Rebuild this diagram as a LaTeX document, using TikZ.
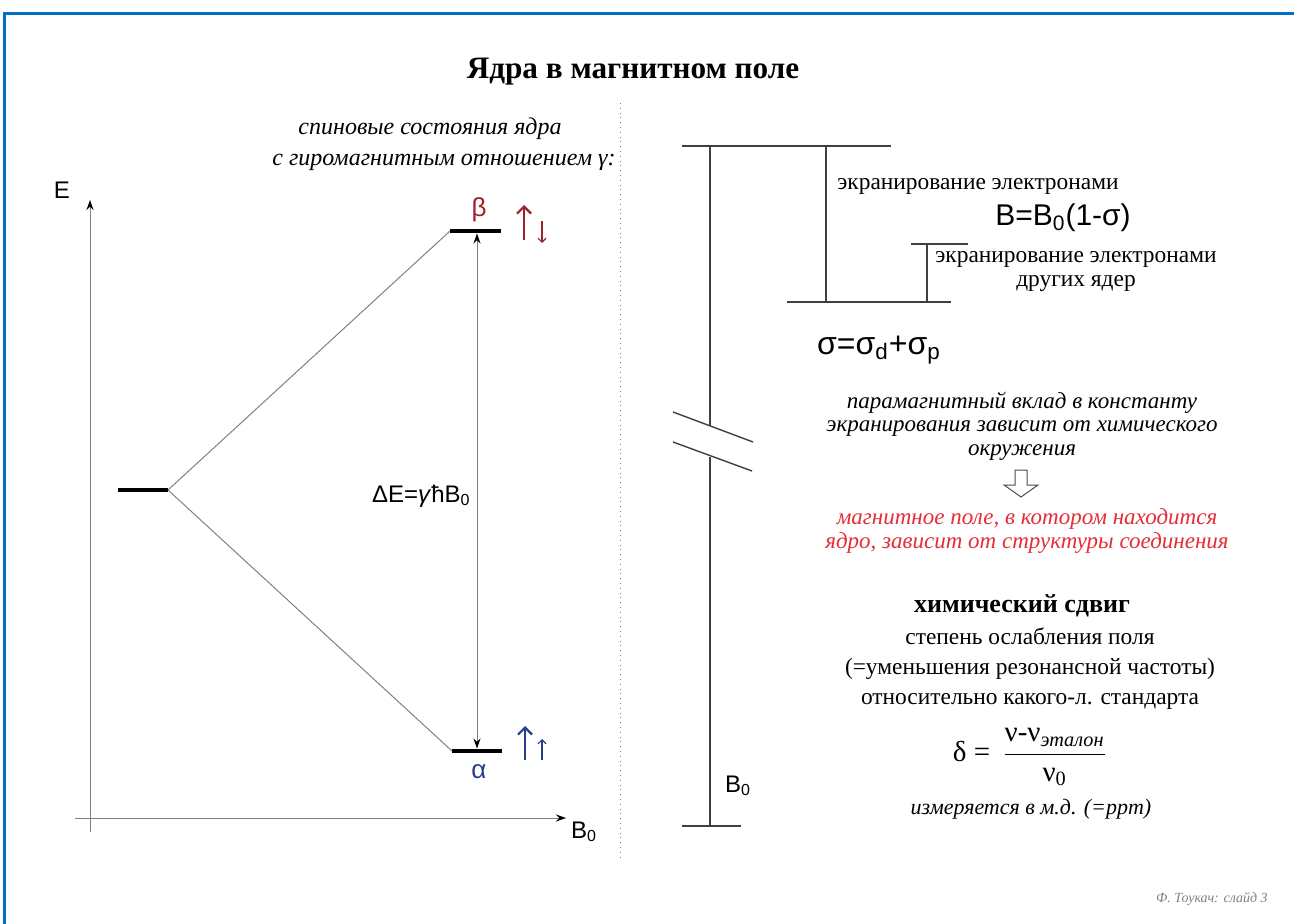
\documentclass[tikz,border=0pt]{standalone}
\usepackage{fontspec}
\setmainfont{Liberation Serif}
\setsansfont{Liberation Sans}
\usetikzlibrary{positioning, arrows.meta}

\definecolor{slideblue}{RGB}{0,112,192}
\definecolor{betared}{RGB}{158,32,40}
\definecolor{alphablue}{RGB}{38,62,140}
\definecolor{notered}{RGB}{228,45,55}

\begin{document}
\begin{tikzpicture}[
    x=0.5pt, y=-0.5pt,
    txt/.style={inner sep=0pt, align=center, font=\fontsize{11.7}{15}\selectfont},
    ital/.style={inner sep=0pt, align=center, font=\fontsize{11.5}{11.75}\selectfont\itshape},
    sans/.style={inner sep=0pt, font=\sffamily\fontsize{12}{14}\selectfont},
    level/.style={line width=2pt},
    thin/.style={draw=gray, line width=0.5pt},
    scaleline/.style={draw=black!75, line width=0.7pt},
    spin/.style={line width=1.1pt, -{Straight Barb[length=3.5pt, width=7pt]}},
    smallspin/.style={line width=0.6pt, -{Straight Barb[length=2pt, width=4pt]}},
    axis/.style={thin, -{Stealth[black, length=5pt, width=3.5pt]}}
  ]
  \useasboundingbox (0,0) rectangle (1294,924);

  % frame and title
  \draw[slideblue, line width=1.75pt] (4.5,924) -- (4.5,13.7) -- (1294,13.7);
  \node[inner sep=0pt, font=\bfseries\fontsize{15.6}{18}\selectfont] (title) at (633,72) {Ядра в магнитном поле};
  \draw[gray, dotted] (620,103) -- (620,860);

  % left: energy levels
  \node[ital, font=\fontsize{12}{14}\selectfont\itshape] (spins1) at (430,129) {спиновые состояния ядра};
  \node[ital, font=\fontsize{12}{14}\selectfont\itshape] (spins2) at (444,162) {с гиромагнитным отношением γ:};
  \coordinate (ytop) at (90,200);
  \coordinate (ybot) at (90,832);
  \coordinate (xleft) at (75,818);
  \coordinate (xright) at (566,818);
  \draw[axis] (ybot) -- (ytop);
  \draw[axis] (xleft) -- (xright);
  \node[sans] (E) at (62,190) {E};
  \node[sans] (B0axis) at (584,832) {B\textsubscript{0}};

  \coordinate (zl) at (118,490);
  \coordinate (zr) at (168,490);
  \coordinate (bl) at (450,231);
  \coordinate (br) at (501,231);
  \coordinate (al) at (452,751);
  \coordinate (ar) at (502,751);
  \draw[level] (zl) -- (zr);
  \draw[level] (bl) -- (br);
  \draw[level] (al) -- (ar);
  \draw[thin] (zr) -- (bl);
  \draw[thin] (zr) -- (al);

  \coordinate (bm) at (477,233.5);
  \coordinate (am) at (477,748.5);
  \draw[thin, {Stealth[black, length=5pt, width=3.5pt]}-{Stealth[black, length=5pt, width=3.5pt]}] (am) -- (bm);
  \node[sans, anchor=east] (dE) at (471,496) {ΔE=\textit{γ}ħB\textsubscript{0}};

  \node[sans, text=betared, font=\sffamily\fontsize{13}{15}\selectfont] (beta) at (479,210) {β};
  \draw[spin, betared] (524,240) -- (524,205);
  \draw[smallspin, betared] (542,221) -- (542,243);
  \node[sans, text=alphablue, font=\sffamily\fontsize{13}{15}\selectfont] (alpha) at (479,772) {α};
  \draw[spin, alphablue] (525,760) -- (525,726);
  \draw[smallspin, alphablue] (542,760) -- (542,739);

  % right: field scale
  \coordinate (s1) at (710,146);
  \coordinate (s2) at (710,426);
  \coordinate (s3) at (710,457);
  \coordinate (s4) at (710,826);
  \draw[scaleline] (s1) -- (s2);
  \draw[scaleline] (s3) -- (s4);
  \draw[scaleline] (673,412) -- (753,442);
  \draw[scaleline] (673,442) -- (752,471);
  \draw[scaleline] (682,146) -- (891,146);
  \draw[scaleline] (682,826) -- (741,826);
  \draw[scaleline] (826,146) -- (826,302);
  \draw[scaleline] (787,302) -- (951,302);
  \draw[scaleline] (911,244) -- (968,244);
  \draw[scaleline] (927,244) -- (927,302);
  \node[sans] (B0scale) at (738,786) {B\textsubscript{0}};

  \node[txt, anchor=west] (scr1) at (837,186) {экранирование электронами};
  \node[sans, font=\sffamily\fontsize{15}{17}\selectfont] (Bfield) at (1063,218) {B=B\textsubscript{0}(1-σ)};
  \node[txt, font=\fontsize{11.7}{12}\selectfont] (scr2) at (1076,272) {экранирование электронами\\других ядер};
  \node[sans, font=\sffamily\fontsize{16}{18}\selectfont] (sigma) at (879,350) {σ=σ\textsubscript{d}+σ\textsubscript{p}};

  \node[ital] (para) at (1022,426) {парамагнитный вклад в константу\\экранирования зависит от химического\\окружения};
  \draw[black!70, line width=0.5pt] (1015,470) -- (1027,470) -- (1027,485) -- (1038,485)
    -- (1021,497) -- (1004,485) -- (1015,485) -- cycle;
  \node[ital, text=notered, font=\fontsize{11.5}{12}\selectfont\itshape] (result) at (1027,531) {магнитное поле, в котором находится\\ядро, зависит от структуры соединения};

  % chemical shift
  \node[inner sep=0pt, font=\bfseries\fontsize{13}{15}\selectfont] (shift) at (1022,606) {химический сдвиг};
  \node[txt] (defn) at (1030,669) {степень ослабления поля\\(=уменьшения резонансной частоты)\\относительно какого-л. стандарта};
  \node[inner sep=0pt, font=\fontsize{14.5}{16}\selectfont] (delta) at (1030,757)
    {δ = \,$\displaystyle\frac{\mbox{ν-ν\textsubscript{\textit{эталон}}}}{\mbox{ν\textsubscript{0}}}$};
  \node[ital, font=\fontsize{11}{13}\selectfont\itshape] (ppm) at (1031,809) {измеряется в м.д. (=ppm)};

  \node[inner sep=0pt, anchor=east, text=gray, font=\fontsize{7}{8}\selectfont\itshape] (foot) at (1268,899) {Ф. Тоукач: слайд 3};
\end{tikzpicture}
\end{document}
